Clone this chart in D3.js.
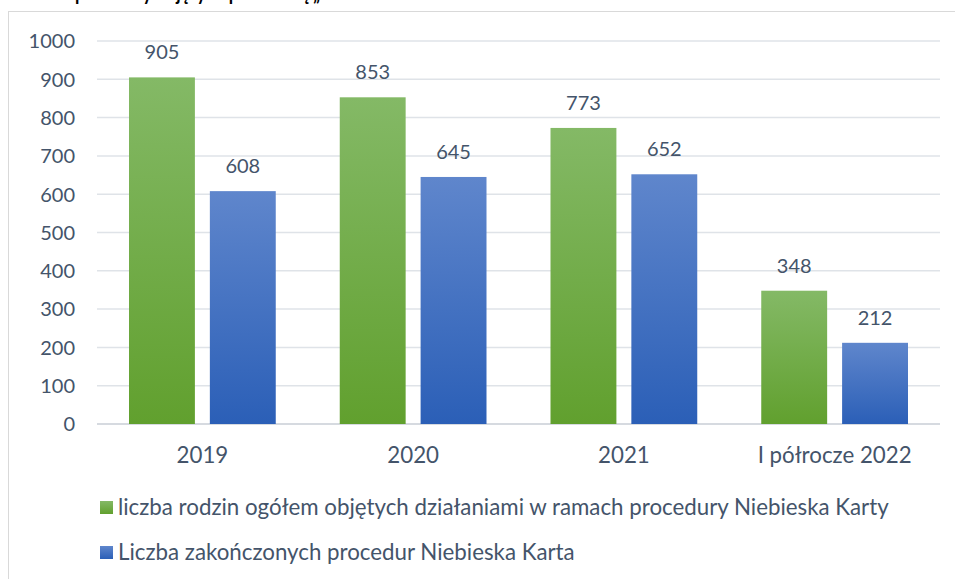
<!DOCTYPE html>
<html><head><meta charset="utf-8">
<script src="https://cdn.jsdelivr.net/npm/d3@7/dist/d3.min.js"></script>
<style>body{margin:0;background:#fff}svg{display:block}text{font-family:Lato,"Open Sans",sans-serif}</style>
</head><body>
<script>
const categories = ["2019", "2020", "2021", "I półrocze 2022"];
const seriesNames = ["liczba rodzin ogółem objętych działaniami w ramach procedury Niebieska Karty", "Liczba zakończonych procedur Niebieska Karta"];
const familiesTotal = [905, 853, 773, 348];
const proceduresClosed = [608, 645, 652, 212];
const yTicks = [0, 100, 200, 300, 400, 500, 600, 700, 800, 900, 1000];
const titleText = "przemocy objętych procedurą „";

const W = 955, H = 579;
const svg = d3.select("body").append("svg").attr("width", W).attr("height", H);
const defs = svg.append("defs");
const grads = [["gGreen", "#84b966", "#61a02e"], ["gBlue", "#5f86cc", "#2b5fb7"]];
grads.forEach(([id, c1, c2]) => {
  const g = defs.append("linearGradient").attr("id", id).attr("x1", 0).attr("y1", 0).attr("x2", 0).attr("y2", 1);
  g.append("stop").attr("offset", "0%").attr("stop-color", c1);
  g.append("stop").attr("offset", "100%").attr("stop-color", c2);
});

// clipped title (only descenders visible, as in the reference)
svg.append("text").attr("x", 320).attr("y", -0.5).attr("text-anchor", "end")
  .attr("textLength", 245).attr("lengthAdjust", "spacingAndGlyphs")
  .attr("font-weight", "bold").attr("font-size", 23).attr("fill", "#000").text(titleText);

// frame
svg.append("rect").attr("x", 8.5).attr("y", 11.5).attr("width", 960).attr("height", 600).attr("fill", "#fff").attr("stroke", "#d9d9d9");

const x0 = d3.scaleBand().domain(categories).range([97, 940]);
const x1 = d3.scaleBand().domain([0, 1]).range([32, x0.bandwidth() - 32]).paddingInner(0.185);
const y = d3.scaleLinear().domain([0, 1000]).range([424, 41]);

// grid
svg.append("g").selectAll("line").data(yTicks).join("line")
  .attr("x1", 97).attr("x2", 940).attr("y1", d => y(d)).attr("y2", d => y(d))
  .attr("stroke", d => d === 0 ? "#d6dae0" : "#dfe3e8").attr("stroke-width", d => d === 0 ? 2 : 1.5);

// y axis
const yAxis = d3.axisLeft(y).tickValues(yTicks).tickFormat(d3.format("d")).tickSize(0).tickPadding(0);
const ya = svg.append("g").attr("transform", "translate(75,0)").call(yAxis);
ya.select(".domain").remove();
ya.selectAll("text").attr("font-size", 20).attr("fill", "#44546a").attr("font-family", "Lato").attr("dy", "0.34em");

// x axis
const xAxis = d3.axisBottom(x0).tickSize(0).tickPadding(0);
const xa = svg.append("g").attr("transform", "translate(0,447)").call(xAxis);
xa.select(".domain").remove();
xa.selectAll("text").attr("font-size", 22.3).attr("fill", "#44546a").attr("font-family", "Lato").attr("dy", "0.71em");

const data = categories.map((c, i) => ({ c, v: [familiesTotal[i], proceduresClosed[i]] }));
const groups = svg.append("g").selectAll("g").data(data).join("g").attr("transform", d => `translate(${x0(d.c)},0)`);
groups.selectAll("rect").data(d => d.v.map((v, k) => ({ v, k }))).join("rect")
  .attr("x", d => x1(d.k)).attr("width", x1.bandwidth())
  .attr("y", d => y(d.v)).attr("height", d => y(0) - y(d.v))
  .attr("fill", d => d.k === 0 ? "url(#gGreen)" : "url(#gBlue)");
groups.selectAll("text").data(d => d.v.map((v, k) => ({ v, k }))).join("text")
  .attr("x", d => x1(d.k) + x1.bandwidth() / 2).attr("y", d => y(d.v) - 18)
  .attr("text-anchor", "middle").attr("font-size", 20).attr("fill", "#44546a").text(d => d.v);

// legend
const leg = svg.append("g").selectAll("g").data(seriesNames).join("g")
  .attr("transform", (d, i) => `translate(100,${501 + i * 45})`);
leg.append("rect").attr("width", 13).attr("height", 13).attr("fill", (d, i) => i === 0 ? "url(#gGreen)" : "url(#gBlue)");
leg.append("text").attr("x", 18).attr("y", 6.5).attr("dy", "0.35em").attr("font-size", 22.3).attr("fill", "#44546a").text(d => d);
</script>
</body></html>
